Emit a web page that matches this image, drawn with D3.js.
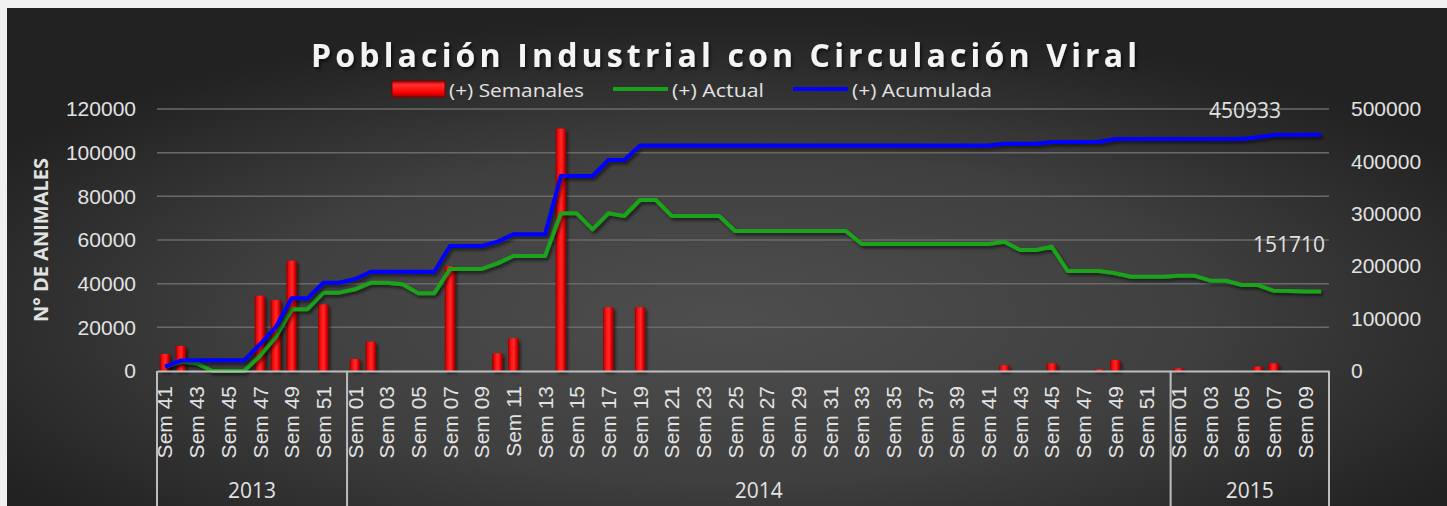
<!DOCTYPE html>
<html>
<head>
<meta charset="utf-8">
<script src="https://cdn.jsdelivr.net/npm/d3@7"></script>
<style>
  body { margin: 0; background: #f0f0f0; }
  svg { display: block; font-family: "Open Sans", sans-serif; }
</style>
</head>
<body>
<div id="chart"></div>
<script>
// categories: weeks grouped by year
const years = [
  { year: "2013", from: 41, to: 52 },
  { year: "2014", from: 1, to: 52 },
  { year: "2015", from: 1, to: 10 }
];
const weeks = years.flatMap(y => d3.range(y.from, y.to + 1).map(w => ({ year: y.year, week: w })));

// (+) Semanales - left axis
const semanales = [
  7800, 11500, 0, 0, 0, 0, 34500, 32500, 50500, 0,
  30500, 0, 5500, 13400, 0, 0, 0, 0, 48000, 0,
  0, 8100, 15000, 0, 0, 111000, 0, 0, 29200, 0,
  29200, 0, 0, 0, 0, 0, 0, 0, 0, 0,
  0, 0, 0, 0, 0, 0, 0, 0, 0, 0,
  0, 0, 0, 2600, 0, 0, 3500, 0, 0, 800,
  5000, 0, 0, 0, 1200, 0, 0, 0, 0, 2000,
  3500, 0, 0, 0
];
// (+) Actual - right axis
const actual = [
  8200, 17700, 14700, 0, 0, 0, 29200, 65500, 118000, 118000,
  149500, 149500, 155900, 168500, 168500, 165400, 148300, 148300, 194700, 194700,
  194700, 205500, 219500, 219500, 219500, 300900, 300900, 270400, 300900, 295800,
  326300, 326300, 295800, 295800, 295800, 295800, 267200, 267200, 267200, 267200,
  267200, 267200, 267200, 267200, 242400, 242400, 242400, 242400, 242400, 242400,
  242400, 242400, 242400, 246800, 230900, 230900, 237000, 190800, 190800, 190800,
  186400, 180000, 180000, 180000, 181900, 181900, 172300, 172300, 164100, 164100,
  153200, 152800, 151500, 151710
];
// (+) Acumulada - right axis
const acumulada = [
  8200, 20000, 20400, 20400, 20400, 20400, 51000, 84000, 138700, 138700,
  168500, 168500, 175600, 189500, 189500, 189500, 189500, 189500, 238500, 238500,
  238500, 246800, 260800, 260800, 260800, 372100, 372100, 372100, 402700, 402700,
  430500, 430500, 430500, 430500, 430500, 430500, 430500, 430500, 430500, 430500,
  430500, 430500, 430500, 430500, 430500, 430500, 430500, 430500, 430500, 430500,
  430500, 430500, 430500, 433500, 433500, 433500, 437000, 437000, 437000, 437600,
  442700, 442700, 442700, 442700, 442700, 442700, 442700, 442700, 442700, 446000,
  450400, 450600, 450800, 450933
];
const leftTicks = [0, 20000, 40000, 60000, 80000, 100000, 120000];
const rightTicks = [0, 100000, 200000, 300000, 400000, 500000];

const W = 1447, H = 506;
const plot = { left: 157, right: 1329, top: 109, bottom: 371 };

const svg = d3.select("#chart").append("svg")
  .attr("width", W).attr("height", H);
const defs = svg.append("defs");

// background gradient
const bg = defs.append("radialGradient").attr("id", "bg")
  .attr("cx", "50%").attr("cy", "62%").attr("r", "60%");
bg.append("stop").attr("offset", "0%").attr("stop-color", "#4e4e4e");
bg.append("stop").attr("offset", "55%").attr("stop-color", "#3f3f3f");
bg.append("stop").attr("offset", "100%").attr("stop-color", "#222222");

// bar gradient (cylinder look)
const barGrad = defs.append("linearGradient").attr("id", "bar")
  .attr("x1", "0%").attr("x2", "100%");
[["0%", "#9a0000"], ["30%", "#ff1010"], ["55%", "#ff2a2a"], ["80%", "#e00000"], ["100%", "#8a0000"]]
  .forEach(([o, c]) => barGrad.append("stop").attr("offset", o).attr("stop-color", c));

const swGrad = defs.append("linearGradient").attr("id", "swatch")
  .attr("x1", "0%").attr("x2", "0%").attr("y1", "0%").attr("y2", "100%");
[["0%", "#b00000"], ["25%", "#ff3030"], ["70%", "#ff0000"], ["100%", "#a00000"]]
  .forEach(([o, c]) => swGrad.append("stop").attr("offset", o).attr("stop-color", c));

const shadow = defs.append("filter").attr("id", "shadow")
  .attr("x", "-10%").attr("y", "-10%").attr("width", "130%").attr("height", "130%");
shadow.append("feDropShadow").attr("dx", 2).attr("dy", 2.5)
  .attr("stdDeviation", 1.5).attr("flood-color", "#000").attr("flood-opacity", 0.55);

svg.append("rect").attr("x", 7).attr("y", 8)
  .attr("width", W - 7).attr("height", H - 8).attr("fill", "url(#bg)");

// scales
const x = d3.scaleBand().domain(d3.range(weeks.length))
  .range([plot.left, plot.right]).padding(0);
const yL = d3.scaleLinear().domain([0, 120000]).range([plot.bottom, plot.top]);
const yR = d3.scaleLinear().domain([0, 500000]).range([plot.bottom, plot.top]);
const cx = i => x(i) + x.bandwidth() / 2;

// gridlines
svg.append("g").selectAll("line").data(leftTicks.slice(1)).join("line")
  .attr("x1", plot.left).attr("x2", plot.right)
  .attr("y1", d => yL(d)).attr("y2", d => yL(d))
  .attr("stroke", "#6a6a6a").attr("stroke-width", 1.5);

// left axis
const axL = svg.append("g").attr("transform", `translate(${plot.left},0)`)
  .call(d3.axisLeft(yL).tickValues(leftTicks).tickSize(0).tickPadding(21).tickFormat(d3.format("d")));
axL.select(".domain").remove();
axL.selectAll("text").attr("fill", "#e2e2e2").style("font-size", "21px");

// right axis
const axR = svg.append("g").attr("transform", `translate(${plot.right},0)`)
  .call(d3.axisRight(yR).tickValues(rightTicks).tickSize(0).tickPadding(22).tickFormat(d3.format("d")));
axR.select(".domain").remove();
axR.selectAll("text").attr("fill", "#e2e2e2").style("font-size", "21px");

// y axis title
svg.append("text")
  .attr("transform", `translate(48,240) rotate(-90)`)
  .attr("text-anchor", "middle")
  .attr("fill", "#e2e2e2").style("font-size", "20px").style("font-weight", "bold")
  .text("N° DE ANIMALES");

// bars
const bw = x.bandwidth() * 0.66;
svg.append("g").attr("filter", "url(#shadow)")
  .selectAll("rect").data(semanales.map((v, i) => ({ v, i })).filter(d => d.v > 0)).join("rect")
  .attr("x", d => cx(d.i) - bw / 2).attr("width", bw)
  .attr("y", d => yL(d.v)).attr("height", d => yL(0) - yL(d.v))
  .attr("fill", "url(#bar)");

// lines
const line = d3.line().x((d, i) => cx(i)).y(d => yR(d));
svg.append("path").datum(actual)
  .attr("d", line).attr("fill", "none")
  .attr("stroke", "#1aa31a").attr("stroke-width", 4).attr("stroke-linejoin", "round")
  .attr("filter", "url(#shadow)");
svg.append("path").datum(acumulada)
  .attr("d", line).attr("fill", "none")
  .attr("stroke", "#0000ff").attr("stroke-width", 4).attr("stroke-linejoin", "round")
  .attr("filter", "url(#shadow)");

// data labels on last points
const last = weeks.length - 1;
svg.append("text").attr("x", cx(last) - 76).attr("y", yR(acumulada[last]) - 17)
  .attr("text-anchor", "middle").attr("fill", "#e2e2e2").style("font-size", "21px")
  .text(acumulada[last]);
svg.append("text").attr("x", cx(last) - 32).attr("y", yR(actual[last]) - 40)
  .attr("text-anchor", "middle").attr("fill", "#e2e2e2").style("font-size", "21px")
  .text(actual[last]);

// x axis (week labels)
const axX = svg.append("g").attr("transform", `translate(0,${plot.bottom})`)
  .call(d3.axisBottom(x).tickSize(0)
    .tickFormat(i => weeks[i].week % 2 === 1 ? "Sem " + String(weeks[i].week).padStart(2, "0") : ""));
axX.select(".domain").attr("stroke", "#bdbdbd").attr("stroke-width", 2);
axX.selectAll("text")
  .attr("transform", "rotate(-90)")
  .attr("x", -15).attr("y", 0).attr("dy", "0.36em")
  .attr("text-anchor", "end")
  .attr("fill", "#e2e2e2").style("font-size", "21px");

// year groups
let start = 0;
const groups = years.map(y => {
  const n = y.to - y.from + 1;
  const g = { year: y.year, x0: x(start), x1: x(start + n - 1) + x.bandwidth() };
  start += n;
  return g;
});
const bounds = [plot.left, ...groups.map(g => g.x1)];
svg.append("g").selectAll("line").data(bounds).join("line")
  .attr("x1", d => d).attr("x2", d => d)
  .attr("y1", plot.bottom).attr("y2", H)
  .attr("stroke", "#bdbdbd").attr("stroke-width", 2);
svg.append("g").selectAll("text").data(groups).join("text")
  .attr("x", d => (d.x0 + d.x1) / 2).attr("y", 498)
  .attr("text-anchor", "middle").attr("fill", "#e2e2e2").style("font-size", "21px")
  .text(d => d.year);

// title
svg.append("text").attr("x", 724).attr("y", 67)
  .attr("text-anchor", "middle")
  .attr("textLength", 826).attr("lengthAdjust", "spacing")
  .attr("fill", "#f4f4f4").style("font-size", "32px").style("font-weight", "bold")
  .attr("filter", "url(#shadow)")
  .text("Población Industrial con Circulación Viral");

// legend
const legend = svg.append("g").style("font-size", "18.5px");
legend.append("rect").attr("x", 392).attr("y", 81).attr("width", 53).attr("height", 16)
  .attr("fill", "url(#swatch)").attr("stroke", "#7a0000").attr("stroke-width", 1);
legend.append("text").attr("x", 449).attr("y", 97).attr("fill", "#e2e2e2")
  .attr("textLength", 135).attr("lengthAdjust", "spacingAndGlyphs").text("(+) Semanales");
legend.append("line").attr("x1", 613).attr("x2", 668).attr("y1", 89).attr("y2", 89)
  .attr("stroke", "#1aa31a").attr("stroke-width", 4);
legend.append("text").attr("x", 672).attr("y", 97).attr("fill", "#e2e2e2")
  .attr("textLength", 92).attr("lengthAdjust", "spacingAndGlyphs").text("(+) Actual");
legend.append("line").attr("x1", 793).attr("x2", 848).attr("y1", 89).attr("y2", 89)
  .attr("stroke", "#0000ff").attr("stroke-width", 4);
legend.append("text").attr("x", 852).attr("y", 97).attr("fill", "#e2e2e2")
  .attr("textLength", 140).attr("lengthAdjust", "spacingAndGlyphs").text("(+) Acumulada");
</script>
</body>
</html>
